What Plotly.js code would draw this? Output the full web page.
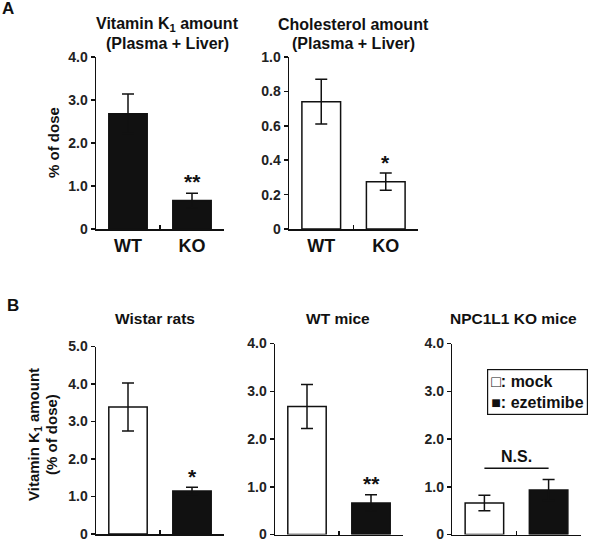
<!DOCTYPE html>
<html>
<head>
<meta charset="utf-8">
<script src="https://cdn.plot.ly/plotly-3.0.1.min.js"></script>
<style>html,body{margin:0;padding:0;background:#fff;}#chart{width:600px;height:543px;}</style>
</head>
<body>
<div id="chart"></div>
<script>
// ---- Data ----
const genotypes = ["WT", "KO"];
const vitK1Mean = [2.68, 0.66];
const vitK1Err = [0.46, 0.17];
const cholMean = [0.74, 0.275];
const cholErr = [0.13, 0.05];

const treatments = ["mock", "ezetimibe"];
const ratsMean = [3.39, 1.15];
const ratsErr = [0.64, 0.10];
const wtMiceMean = [2.68, 0.66];
const wtMiceErr = [0.46, 0.17];
const koMiceMean = [0.66, 0.93];
const koMiceErr = [0.16, 0.22];

const yTicks4 = [0, 1, 2, 3, 4];
const yTickText4 = ["0", "1.0", "2.0", "3.0", "4.0"];
const yTicks5 = [0, 1, 2, 3, 4, 5];
const yTickText5 = ["0", "1.0", "2.0", "3.0", "4.0", "5.0"];
const yTicks1 = [0, 0.2, 0.4, 0.6, 0.8, 1.0];
const yTickText1 = ["0", "0.2", "0.4", "0.6", "0.8", "1.0"];
const nsLevel = 1.39;

// ---- Styling ----
const FONT = "Arial, 'Liberation Sans', Helvetica, sans-serif";
const BLACK = "#111111";
const W = 600, H = 543;
const px = x => x / W;
const py = y => 1 - y / H;

function bar(xa, ya, cats, vals, errs, colors) {
  return {
    type: "bar", x: cats, y: vals, xaxis: xa, yaxis: ya, width: 0.6,
    marker: { color: colors, line: { color: BLACK, width: 1.5 } },
    error_y: { type: "data", array: errs, visible: true, color: BLACK, thickness: 1.5, width: 6 },
    showlegend: false, hoverinfo: "skip"
  };
}

const fill2 = (a, b) => [a, b];
const traces = [
  bar("x", "y", genotypes, vitK1Mean, vitK1Err, fill2(BLACK, BLACK)),
  bar("x2", "y2", genotypes, cholMean, cholErr, fill2("#ffffff", "#ffffff")),
  bar("x3", "y3", treatments, ratsMean, ratsErr, fill2("#ffffff", BLACK)),
  bar("x4", "y4", treatments, wtMiceMean, wtMiceErr, fill2("#ffffff", BLACK)),
  bar("x5", "y5", treatments, koMiceMean, koMiceErr, fill2("#ffffff", BLACK)),
  {
    type: "scatter", mode: "lines", x: treatments, y: [nsLevel, nsLevel],
    xaxis: "x5", yaxis: "y5", line: { color: BLACK, width: 1.5 },
    showlegend: false, hoverinfo: "skip"
  }
];

function xax(d0, d1, anchor, labels) {
  return {
    domain: [px(d0), px(d1)], anchor: anchor, type: "category", range: [-0.5, 1.5],
    showline: true, linecolor: BLACK, linewidth: 1.5, ticks: "inside", tickson: "boundaries",
    ticklen: 4, tickwidth: 1.5, tickcolor: BLACK, showgrid: false, zeroline: false,
    showticklabels: labels, tickfont: { family: FONT, size: 18, color: BLACK, weight: "bold" },
    ticklabeloverflow: "allow", fixedrange: true
  };
}
function yax(top, bottom, anchor, range, vals, text) {
  return {
    domain: [py(bottom), py(top)], anchor: anchor, range: range,
    tickvals: vals, ticktext: text,
    showline: true, linecolor: BLACK, linewidth: 1.5, ticks: "outside",
    ticklen: 4, tickwidth: 1.5, tickcolor: BLACK, showgrid: false, zeroline: false,
    tickfont: { family: FONT, size: 14, color: "#222", weight: "bold" },
    ticklabeloverflow: "allow", fixedrange: true
  };
}

const layout = {
  width: W, height: H, margin: { l: 0, r: 0, t: 0, b: 0 },
  paper_bgcolor: "#fff", plot_bgcolor: "rgba(0,0,0,0)",
  font: { family: FONT, color: BLACK },
  showlegend: false, bargap: 0.4,
  xaxis: xax(96, 224, "y", true),
  yaxis: yax(57, 229, "x", [0, 4], yTicks4, yTickText4),
  xaxis2: xax(289, 418, "y2", true),
  yaxis2: yax(57, 229, "x2", [0, 1], yTicks1, yTickText1),
  xaxis3: xax(96, 224, "y3", false),
  yaxis3: yax(346.5, 534, "x3", [0, 5], yTicks5, yTickText5),
  xaxis4: xax(275, 403, "y4", false),
  yaxis4: yax(343.5, 534.5, "x4", [0, 4], yTicks4, yTickText4),
  xaxis5: xax(452.3, 580.7, "y5", false),
  yaxis5: yax(343.5, 534.5, "x5", [0, 4], yTicks4, yTickText4),
  annotations: []
};

function note(text, x, y, size, extra) {
  return Object.assign({
    text: text, x: px(x), y: py(y), xref: "paper", yref: "paper",
    showarrow: false, xanchor: "center", yanchor: "middle",
    font: { family: FONT, size: size, color: BLACK, weight: "bold" }
  }, extra || {});
}

layout.annotations.push(
  note("A", 8, 9, 17),
  note("B", 13, 305, 17),
  note("Vitamin K<sub>1</sub> amount", 167, 24, 16),
  note("(Plasma + Liver)", 167, 43, 16),
  note("Cholesterol amount", 353, 24, 16),
  note("(Plasma + Liver)", 353, 43, 16),
  note("% of dose", 53, 143, 15, { textangle: -90 }),
  note("Vitamin K<sub>1</sub> amount", 34, 435, 15, { textangle: -90 }),
  note("(% of dose)", 51, 435, 15, { textangle: -90 }),
  note("Wistar rats", 155, 318, 15.5),
  note("WT mice", 338, 318, 15.5),
  note("NPC1L1 KO mice", 513, 318, 15.5),
  // significance marks placed on the data axes
  Object.assign(note("**", 0, 0, 21), { x: "KO", y: vitK1Mean[1] + vitK1Err[1], xref: "x", yref: "y", yanchor: "bottom", yshift: -2 }),
  Object.assign(note("*", 0, 0, 21), { x: "KO", y: cholMean[1] + cholErr[1], xref: "x2", yref: "y2", yanchor: "bottom", yshift: -3 }),
  Object.assign(note("*", 0, 0, 21), { x: "ezetimibe", y: ratsMean[1] + ratsErr[1], xref: "x3", yref: "y3", yanchor: "bottom", yshift: -3 }),
  Object.assign(note("**", 0, 0, 21), { x: "ezetimibe", y: wtMiceMean[1] + wtMiceErr[1], xref: "x4", yref: "y4", yanchor: "bottom", yshift: -2 }),
  Object.assign(note("N.S.", 0, 0, 16), { x: 0.5, y: nsLevel, xref: "x5", yref: "y5", yanchor: "bottom", yshift: 1 }),
  {
    text: "□: mock<br>■: ezetimibe", x: px(487), y: py(369), xref: "paper", yref: "paper",
    xanchor: "left", yanchor: "top", align: "left", showarrow: false,
    bordercolor: BLACK, borderwidth: 1.2, borderpad: 3, bgcolor: "#fff",
    font: { family: FONT, size: 16, color: BLACK, weight: "bold" }
  }
);

Plotly.newPlot("chart", traces, layout, { staticPlot: true, displayModeBar: false });
</script>
</body>
</html>
